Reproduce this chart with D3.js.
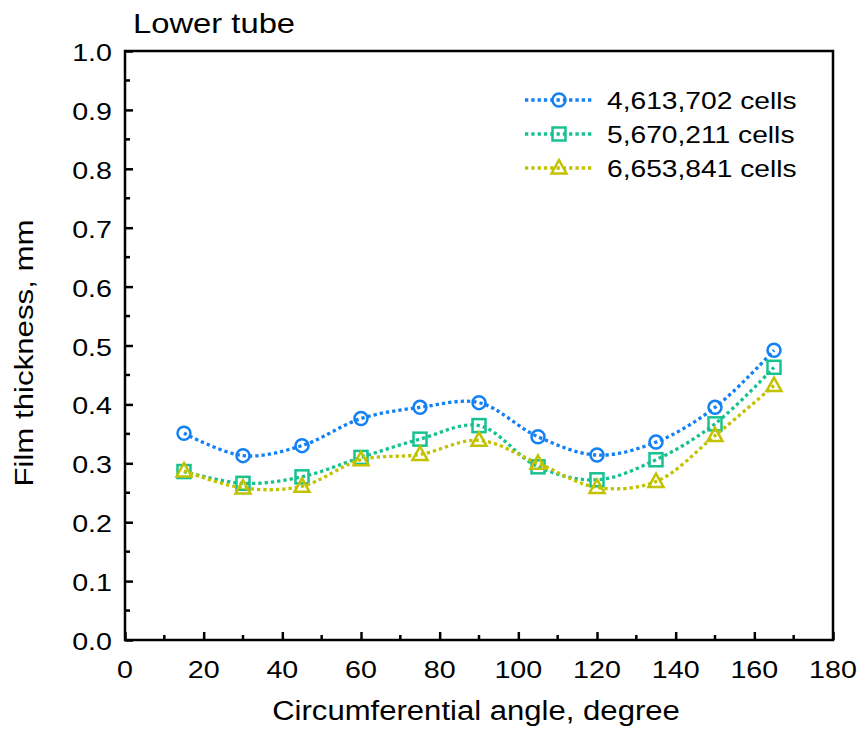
<!DOCTYPE html>
<html>
<head>
<meta charset="utf-8">
<script src="https://cdn.jsdelivr.net/npm/d3@7"></script>
<style>
  body { margin: 0; background: #fff; }
  text { font-family: "Liberation Sans", Arial, sans-serif; fill: #000; }
</style>
</head>
<body>
<div id="chart"></div>
<script>
// Dữ liệu
const angles = [15, 30, 45, 60, 75, 90, 105, 120, 135, 150, 165];
const cells4613702 = [0.351, 0.313, 0.330, 0.376, 0.395, 0.403, 0.345, 0.314, 0.336, 0.395, 0.492];
const cells5670211 = [0.286, 0.266, 0.277, 0.310, 0.341, 0.364, 0.294, 0.272, 0.306, 0.367, 0.463];
const cells6653841 = [0.287, 0.258, 0.261, 0.306, 0.315, 0.339, 0.300, 0.259, 0.269, 0.347, 0.432];
const seriesNames = ["4,613,702 cells", "5,670,211 cells", "6,653,841 cells"];
const xTicks = [0, 20, 40, 60, 80, 100, 120, 140, 160, 180];
const yTicks = [0, 0.1, 0.2, 0.3, 0.4, 0.5, 0.6, 0.7, 0.8, 0.9, 1.0];

const series = [
  { name: seriesNames[0], values: cells4613702, color: "#1380f5", shape: "circle" },
  { name: seriesNames[1], values: cells5670211, color: "#17c190", shape: "square" },
  { name: seriesNames[2], values: cells6653841, color: "#c2c200", shape: "triangle" }
];

// Kích thước và lề
const W = 863, H = 742;
const margin = { top: 51, left: 125 },
      width = 833 - margin.left,
      height = 640 - margin.top;

const svg = d3.select("#chart").append("svg")
    .attr("width", W).attr("height", H);
const g = svg.append("g")
    .attr("transform", `translate(${margin.left},${margin.top})`);

const x = d3.scaleLinear().domain([0, 180]).range([0, width]);
const y = d3.scaleLinear().domain([0, 1]).range([height, 0]);

// Chữ hơi giãn ngang như bản gốc
function label(parent, px, py, txt, size, anchor, sx, rot) {
  return parent.append("text")
    .attr("transform", `translate(${px},${py})` + (rot ? ` rotate(${rot})` : "") + ` scale(${sx},1)`)
    .attr("text-anchor", anchor)
    .style("font-size", size + "px")
    .text(txt);
}

// Trục X (tick hướng vào trong)
g.append("g")
    .attr("transform", `translate(0,${height})`)
    .call(d3.axisBottom(x).tickValues(xTicks).tickSize(-8).tickFormat(""))
    .call(a => a.select(".domain").remove())
    .call(a => a.selectAll(".tick line").attr("stroke-width", 2.5));
g.append("g").selectAll("line")
  .data(d3.range(10, 180, 20))
  .join("line")
    .attr("x1", d => x(d)).attr("x2", d => x(d))
    .attr("y1", height).attr("y2", height - 5)
    .attr("stroke", "#000").attr("stroke-width", 2.5);
xTicks.forEach(t => label(g, x(t), height + 38, d3.format("d")(t), 24.5, "middle", 1.17));

// Trục Y
g.append("g")
    .call(d3.axisLeft(y).tickValues(yTicks).tickSize(-8).tickFormat(""))
    .call(a => a.select(".domain").remove())
    .call(a => a.selectAll(".tick line").attr("stroke-width", 2.5));
g.append("g").selectAll("line")
  .data(d3.range(0.05, 1, 0.1))
  .join("line")
    .attr("x1", 0).attr("x2", 5)
    .attr("y1", d => y(d)).attr("y2", d => y(d))
    .attr("stroke", "#000").attr("stroke-width", 2.5);
yTicks.forEach(t => label(g, -13, y(t) + 10, d3.format(".1f")(t), 24.5, "end", 1.17));

// Khung
g.append("rect")
  .attr("x", 0).attr("y", 0).attr("width", width).attr("height", height)
  .attr("fill", "none").attr("stroke", "#000").attr("stroke-width", 2.5);

// Đường
const line = d3.line()
  .x((d, i) => x(angles[i]))
  .y(d => y(d))
  .curve(d3.curveCatmullRom.alpha(0.5));

function marker(sel, shape, color) {
  if (shape === "circle") {
    sel.append("circle").attr("r", 6.5);
  } else if (shape === "square") {
    sel.append("rect").attr("x", -6.5).attr("y", -6.5).attr("width", 13).attr("height", 13);
  } else {
    sel.append("path").attr("d", "M0,-8L7.5,5.5L-7.5,5.5Z");
  }
  sel.selectAll("*").attr("fill", "none").attr("stroke", color).attr("stroke-width", 2.5);
}

series.forEach(s => {
  g.append("path")
    .datum(s.values)
    .attr("d", line)
    .attr("fill", "none")
    .attr("stroke", s.color)
    .attr("stroke-width", 3.3)
    .attr("stroke-dasharray", "3.3,3");
  s.values.forEach((v, i) => {
    const m = g.append("g").attr("transform", `translate(${x(angles[i])},${y(v)})`);
    marker(m, s.shape, s.color);
  });
});

// Legend
const legend = svg.append("g");
series.forEach((s, i) => {
  const ly = 100 + i * 34;
  legend.append("line")
    .attr("x1", 525).attr("x2", 593).attr("y1", ly).attr("y2", ly)
    .attr("stroke", s.color).attr("stroke-width", 3.3).attr("stroke-dasharray", "3.3,3");
  const m = legend.append("g").attr("transform", `translate(559,${ly})`);
  marker(m, s.shape, s.color);
  label(legend, 607, ly + 9, s.name, 23.5, "start", 1.2);
});

// Tiêu đề và nhãn trục
label(svg, 133, 33, "Lower tube", 28, "start", 1.17);
label(svg, 476, 720, "Circumferential angle, degree", 28, "middle", 1.11);
label(svg, 33, 353, "Film thickness, mm", 26.7, "middle", 1.17, -90);
</script>
</body>
</html>
